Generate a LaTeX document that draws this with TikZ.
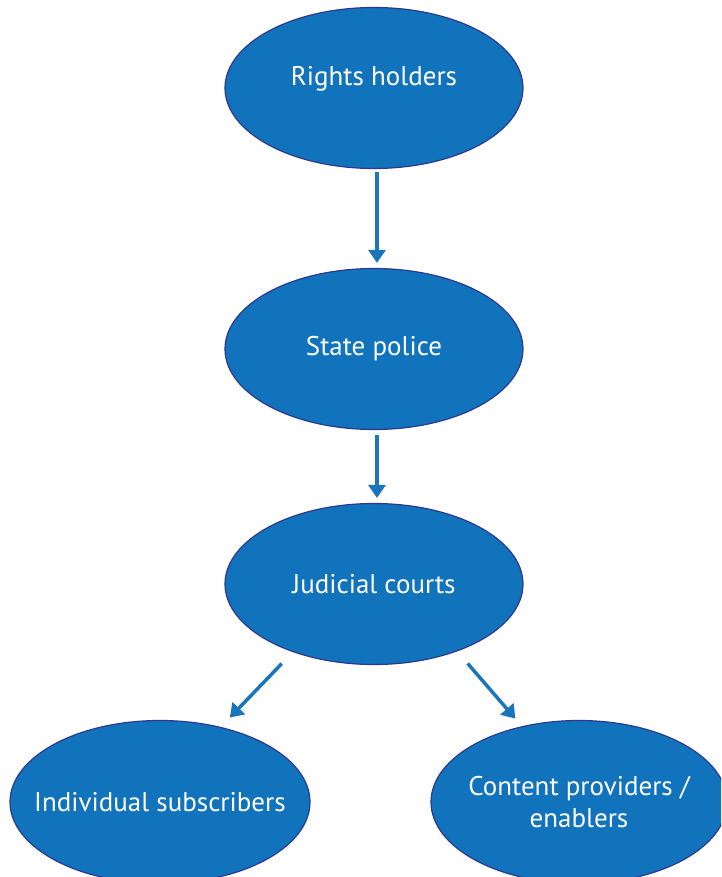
\documentclass[tikz,border=0pt]{standalone}
\usepackage{fontspec}
\setmainfont{PT Sans}
\usetikzlibrary{shapes.geometric,arrows.meta}
\definecolor{blobfill}{RGB}{17,115,188}
\definecolor{blobline}{RGB}{43,57,144}
\definecolor{arrowblue}{RGB}{27,117,187}
\tikzset{
  blob/.style={ellipse,fill=blobfill,draw=blobline,line width=1.2pt,text=white,
    inner xsep=-60pt,inner ysep=-20pt,minimum width=298pt,minimum height=161pt,align=center,
    font=\fontsize{27}{32}\selectfont},
  arr/.style={arrowblue,line width=3.5pt,-{Triangle[width=17pt,length=13pt]}}
}

\begin{document}
\begin{tikzpicture}[x=1pt,y=-1pt]
  \useasboundingbox (0,0) rectangle (721,877);
  \clip (0,0) rectangle (721,877);
  \node[blob,text height=19pt,text depth=24pt] (rh) at (374,88) {Rights holders};
  \node[blob] (sp) at (374,349) {State police};
  \node[blob] (jc) at (374,584) {Judicial courts};
  \node[blob,minimum width=300pt,minimum height=163pt] (is) at (160,802) {Individual subscribers};
  \node[blob,minimum width=296pt,minimum height=163pt] (cp) at (579,802) {Content providers /\\enablers};
  \draw[arr,shorten <=3pt,shorten >=5pt] ([xshift=3pt]rh.south) -- ([xshift=3pt]sp.north);
  \draw[arr,shorten <=5pt,shorten >=5pt] ([xshift=3pt]sp.south) -- ([xshift=3pt]jc.north);
  \draw[arr,shorten <=16pt,shorten >=13pt] (jc.220) -- (is.51);
  \draw[arr,shorten <=16pt,shorten >=10pt] (jc.321) -- (cp.127);
\end{tikzpicture}
\end{document}
